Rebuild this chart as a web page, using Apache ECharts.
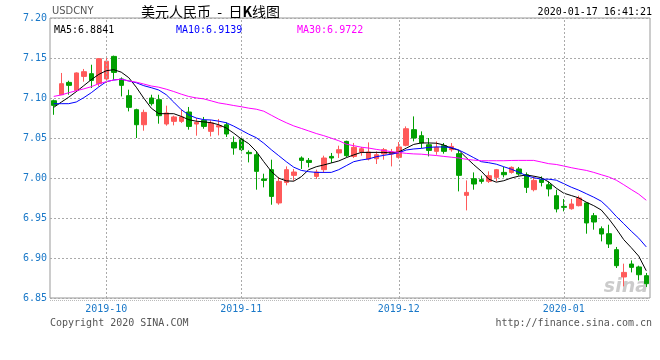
<!DOCTYPE html>
<html><head><meta charset="utf-8">
<script src="https://cdn.jsdelivr.net/npm/echarts/dist/echarts.min.js"></script>
<style>html,body{margin:0;padding:0;background:#fff}#c{width:660px;height:360px}</style>
</head><body><div id="c"></div>
<script>
const dates = [
'2019-09-20','2019-09-23','2019-09-24','2019-09-25','2019-09-26','2019-09-27','2019-09-30',
'2019-10-08','2019-10-09','2019-10-10','2019-10-11','2019-10-14','2019-10-15','2019-10-16','2019-10-17','2019-10-18',
'2019-10-21','2019-10-22','2019-10-23','2019-10-24','2019-10-25','2019-10-28','2019-10-29','2019-10-30','2019-10-31',
'2019-11-01','2019-11-04','2019-11-05','2019-11-06','2019-11-07','2019-11-08','2019-11-11','2019-11-12','2019-11-13','2019-11-14','2019-11-15',
'2019-11-18','2019-11-19','2019-11-20','2019-11-21','2019-11-22','2019-11-25','2019-11-26','2019-11-27','2019-11-28','2019-11-29',
'2019-12-02','2019-12-03','2019-12-04','2019-12-05','2019-12-06','2019-12-09','2019-12-10','2019-12-11','2019-12-12','2019-12-13',
'2019-12-16','2019-12-17','2019-12-18','2019-12-19','2019-12-20','2019-12-23','2019-12-24','2019-12-25','2019-12-26','2019-12-27',
'2019-12-30','2019-12-31',
'2020-01-02','2020-01-03','2020-01-06','2020-01-07','2020-01-08','2020-01-09','2020-01-10','2020-01-13','2020-01-14','2020-01-15','2020-01-16','2020-01-17'];

const opens = [7.0966,7.1041,7.1195,7.1095,7.1270,7.1304,7.1179,7.1238,7.1520,7.1238,
7.1029,7.0854,7.0666,7.1000,7.0979,7.0675,7.0708,7.0708,7.0825,7.0675,
7.0720,7.0583,7.0638,7.0666,7.0445,7.0479,7.0320,7.0291,6.9988,7.0104,
6.9688,6.9945,7.0033,7.0250,7.0220,7.0020,7.0104,7.0270,7.0313,7.0458,
7.0270,7.0325,7.0238,7.0241,7.0300,7.0300,7.0258,7.0408,7.0604,7.0529,
7.0416,7.0333,7.0404,7.0354,7.0304,6.9783,6.9991,6.9979,6.9958,7.0008,
7.0070,7.0070,7.0113,7.0041,6.9854,6.9979,6.9916,6.9779,6.9645,6.9616,
6.9654,6.9688,6.9529,6.9366,6.9304,6.9104,6.8763,6.8925,6.8888,6.8779];

const closes = [7.0908,7.1179,7.1158,7.1313,7.1329,7.1220,7.1491,7.1460,7.1320,7.1158,
7.0883,7.0666,7.0820,7.0929,7.0779,7.0813,7.0763,7.0763,7.0645,7.0695,
7.0645,7.0688,7.0654,7.0550,7.0375,7.0354,7.0304,7.0083,6.9970,6.9770,
6.9958,7.0104,7.0075,7.0220,7.0195,7.0075,7.0250,7.0250,7.0354,7.0279,
7.0383,7.0366,7.0325,7.0291,7.0354,7.0325,7.0388,7.0616,7.0500,7.0438,
7.0345,7.0383,7.0333,7.0395,7.0033,6.9820,6.9925,6.9958,7.0029,7.0104,
7.0041,7.0133,7.0050,6.9883,6.9970,6.9945,6.9863,6.9613,6.9633,6.9675,
6.9750,6.9438,6.9450,6.9300,6.9175,6.8904,6.8820,6.8883,6.8791,6.8679];

const lows = [7.0790,7.1040,7.1041,7.1083,7.1204,7.1125,7.1145,7.1188,7.1229,7.1020,
7.0833,7.0500,7.0591,7.0904,7.0679,7.0654,7.0658,7.0688,7.0604,7.0529,
7.0616,7.0520,7.0533,7.0513,7.0291,7.0333,7.0195,6.9854,6.9883,6.9666,
6.9666,6.9908,6.9966,7.0113,7.0133,6.9988,7.0063,7.0188,7.0250,7.0263,
7.0250,7.0279,7.0220,7.0175,7.0229,7.0145,7.0241,7.0395,7.0458,7.0375,
7.0270,7.0291,7.0304,7.0329,6.9833,6.9595,6.9854,6.9929,6.9938,6.9958,
7.0008,7.0054,7.0029,6.9813,6.9833,6.9895,6.9770,6.9570,6.9583,6.9604,
6.9645,6.9304,6.9354,6.9208,6.9125,6.8875,6.8645,6.8820,6.8720,6.8638];

const highs = [7.0980,7.1313,7.1216,7.1320,7.1363,7.1416,7.1500,7.1500,7.1530,7.1258,
7.1104,7.0866,7.0854,7.1041,7.1041,7.0904,7.0779,7.0854,7.0888,7.0750,
7.0763,7.0720,7.0738,7.0695,7.0520,7.0513,7.0345,7.0333,7.0054,7.0229,
7.0013,7.0145,7.0113,7.0270,7.0250,7.0104,7.0279,7.0313,7.0404,7.0466,
7.0438,7.0388,7.0445,7.0333,7.0375,7.0363,7.0450,7.0645,7.0770,7.0583,
7.0500,7.0458,7.0438,7.0438,7.0345,6.9970,7.0070,7.0029,7.0083,7.0113,
7.0138,7.0145,7.0138,7.0070,7.0020,7.0020,6.9958,6.9854,6.9738,6.9738,
6.9779,6.9695,6.9563,6.9395,6.9416,6.9138,6.8929,6.8970,6.8904,6.8813];

const ma5 = [7.0883,7.0948,7.1010,7.1079,7.1154,7.1229,7.1295,7.1341,7.1354,7.1323,
7.1254,7.1135,7.0998,7.0873,7.0804,7.0804,7.0804,7.0770,7.0729,7.0710,
7.0701,7.0691,7.0666,7.0625,7.0560,7.0488,7.0429,7.0333,7.0204,7.0083,
6.9998,6.9964,6.9960,7.0016,7.0104,7.0141,7.0163,7.0188,7.0213,7.0254,
7.0289,7.0320,7.0320,7.0320,7.0320,7.0313,7.0325,7.0373,7.0420,7.0438,
7.0438,7.0435,7.0413,7.0373,7.0348,7.0254,7.0166,7.0085,6.9985,6.9948,
6.9966,7.0000,7.0023,7.0038,7.0023,7.0004,6.9950,6.9873,6.9810,6.9781,
6.9751,6.9698,6.9654,6.9600,6.9491,6.9366,6.9229,6.9129,6.9023,6.8841];

const ma10 = [7.0929,7.0929,7.0929,7.0950,7.1004,7.1066,7.1138,7.1204,7.1225,7.1235,
7.1213,7.1191,7.1154,7.1129,7.1100,7.1041,7.0948,7.0854,7.0788,7.0750,
7.0729,7.0725,7.0710,7.0691,7.0648,7.0598,7.0548,7.0504,7.0435,7.0354,
7.0279,7.0204,7.0135,7.0095,7.0079,7.0070,7.0070,7.0070,7.0104,7.0154,
7.0204,7.0225,7.0239,7.0266,7.0283,7.0298,7.0316,7.0350,7.0363,7.0370,
7.0383,7.0388,7.0388,7.0381,7.0350,7.0304,7.0254,7.0204,7.0191,7.0173,
7.0141,7.0110,7.0073,7.0029,7.0004,6.9985,6.9985,6.9973,6.9929,6.9885,
6.9848,6.9804,6.9760,6.9710,6.9623,6.9520,6.9429,6.9335,6.9248,6.9139];

const ma30 = [7.1020,7.1038,7.1066,7.1091,7.1114,7.1141,7.1179,7.1204,7.1225,7.1235,
7.1213,7.1198,7.1175,7.1150,7.1135,7.1110,7.1081,7.1048,7.1019,7.1001,
7.0989,7.0964,7.0938,7.0923,7.0906,7.0891,7.0873,7.0860,7.0835,7.0785,
7.0735,7.0691,7.0651,7.0620,7.0588,7.0556,7.0529,7.0498,7.0466,7.0423,
7.0404,7.0385,7.0374,7.0358,7.0344,7.0329,7.0319,7.0308,7.0301,7.0298,
7.0289,7.0281,7.0270,7.0260,7.0250,7.0234,7.0223,7.0216,7.0216,7.0216,
7.0216,7.0219,7.0220,7.0220,7.0220,7.0200,7.0179,7.0169,7.0150,7.0129,
7.0111,7.0095,7.0070,7.0041,7.0013,6.9973,6.9916,6.9856,6.9798,6.9722];

const yMin = 6.85, yMax = 7.20, yStep = 0.05;
const symbolName = 'USDCNY';
const titleText = '美元人民币  -  日{b|K}线图';
const timeStamp = '2020-01-17 16:41:21';
const copyright = 'Copyright 2020 SINA.COM';
const siteUrl = 'http://finance.sina.com.cn';

const UP = '#ff5a5a', DOWN = '#00a000';
const MONO = '"DejaVu Sans Mono", "Liberation Mono", monospace';
const AXIS_BLUE = '#1a78c8';

const monthStarts = [];
dates.forEach((d, i) => { if (i > 0 && d.slice(0, 7) !== dates[i - 1].slice(0, 7)) monthStarts.push(i); });
const kData = dates.map((d, i) => [opens[i], closes[i], lows[i], highs[i]]);
const last = a => a[a.length - 1].toFixed(4);

const chart = echarts.init(document.getElementById('c'), null, { renderer: 'canvas' });
chart.setOption({
  animation: false,
  backgroundColor: '#fff',
  grid: { left: 50, right: 10, top: 18, bottom: 62, show: true, borderColor: '#999', borderWidth: 1, backgroundColor: '#fff', containLabel: false, outerBoundsMode: 'none' },
  xAxis: {
    type: 'category', data: dates, boundaryGap: true,
    axisLine: { show: false }, axisTick: { show: false }, splitLine: { show: false },
    axisLabel: {
      interval: (idx) => monthStarts.indexOf(idx) >= 0,
      formatter: v => v.slice(0, 7),
      color: AXIS_BLUE, fontFamily: MONO, fontSize: 10, margin: 6
    }
  },
  yAxis: {
    type: 'value', min: yMin, max: yMax, interval: yStep, scale: true,
    axisLine: { show: false }, axisTick: { show: false },
    axisLabel: { formatter: v => v.toFixed(2), color: AXIS_BLUE, fontFamily: MONO, fontSize: 10, margin: 3 },
    splitLine: { show: true, lineStyle: { color: '#aaa', type: [2, 2], width: 1 } }
  },
  series: [
    {
      type: 'candlestick', data: kData, barWidth: 5,
      itemStyle: { color: UP, color0: DOWN, borderColor: UP, borderColor0: DOWN, borderColorDoji: DOWN, borderWidth: 1 },
      markLine: {
        silent: true, symbol: ['none', 'none'], label: { show: false },
        lineStyle: { color: '#aaa', type: [2, 2], width: 1 },
        data: monthStarts.map(i => ({ xAxis: dates[i] }))
      },
      z: 3
    },
    { type: 'line', data: ma5, symbol: 'none', smooth: false, lineStyle: { color: '#000', width: 1 }, z: 4 },
    { type: 'line', data: ma10, symbol: 'none', smooth: false, lineStyle: { color: '#0000ff', width: 1 }, z: 4 },
    { type: 'line', data: ma30, symbol: 'none', smooth: false, lineStyle: { color: '#ff00ff', width: 1 }, z: 4 }
  ],
  graphic: [
    { type: 'text', x: 52, y: 11, style: { text: symbolName, font: '11px "Liberation Sans Narrow", "DejaVu Sans Condensed", sans-serif', fill: '#555', textVerticalAlign: 'middle' } },
    { type: 'text', x: 141, y: 12, style: { text: titleText, font: '14px "Noto Sans CJK SC", sans-serif', fill: '#000', textVerticalAlign: 'middle', rich: { b: { fontWeight: 'bold', fontSize: 14, fontFamily: '"Noto Sans CJK SC", sans-serif' } } } },
    { type: 'text', x: 652, y: 12, style: { text: timeStamp, font: '10px ' + MONO, fill: '#000', textAlign: 'right', textVerticalAlign: 'middle' } },
    { type: 'text', x: 54, y: 30, z: 10, style: { text: 'MA5:' + last(ma5), font: '10px ' + MONO, fill: '#000', textVerticalAlign: 'middle' } },
    { type: 'text', x: 176, y: 30, z: 10, style: { text: 'MA10:' + last(ma10), font: '10px ' + MONO, fill: '#0000ff', textVerticalAlign: 'middle' } },
    { type: 'text', x: 297, y: 30, z: 10, style: { text: 'MA30:' + last(ma30), font: '10px ' + MONO, fill: '#ff00ff', textVerticalAlign: 'middle' } },
    { type: 'line', shape: { x1: 50, y1: 300.5, x2: 650, y2: 300.5 }, style: { stroke: '#bbb', lineWidth: 1, lineDash: [1, 1] } },
    { type: 'text', x: 50, y: 323, style: { text: copyright, font: '10px ' + MONO, fill: '#555', textVerticalAlign: 'middle' } },
    { type: 'text', x: 652, y: 323, style: { text: siteUrl, font: '10px ' + MONO, fill: '#555', textAlign: 'right', textVerticalAlign: 'middle' } },
    { type: 'text', x: 648, y: 287, z: 1, style: { text: 'sina', font: 'italic bold 19px "DejaVu Sans", sans-serif', fill: 'rgba(160,160,160,0.55)', textAlign: 'right', textVerticalAlign: 'middle' } }
  ]
});
</script></body></html>
